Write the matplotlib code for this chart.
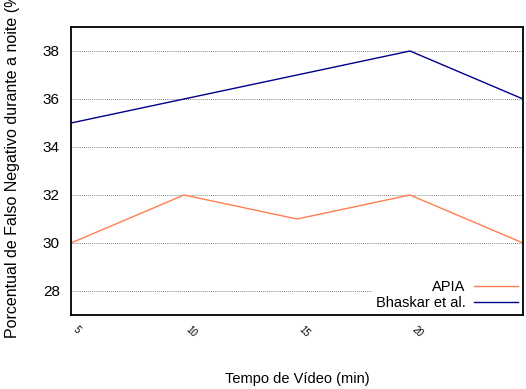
import matplotlib.pyplot as plt

plt.rcParams["font.family"] = ["Liberation Sans", "DejaVu Sans"]

tempo = [5, 10, 15, 20, 25]
apia = [30, 32, 31, 32, 30]
bhaskar = [35, 36, 37, 38, 36]
yticks = [28, 30, 32, 34, 36, 38]

fig = plt.figure(figsize=(5.26, 3.89), dpi=100)
ax = fig.add_axes([71 / 526, 74 / 389, 452 / 526, 288 / 389])

ax.plot(tempo, apia, color="#ff7f50", lw=1.0, label="APIA")
ax.plot(tempo, bhaskar, color="#00008b", lw=1.0, label="Bhaskar et al.")

ax.set_xlim(5, 25)
ax.set_ylim(27, 39)
ax.set_yticks(yticks)
ax.set_xticks(tempo)
ax.yaxis.grid(True, linestyle=(0, (1, 1.5)), color="#555555", lw=0.6)
ax.set_axisbelow(True)

ax.tick_params(axis="y", length=0, pad=8, labelsize=11)
ax.tick_params(axis="x", length=0, pad=7, labelsize=7)
for lab in ax.get_xticklabels():
    lab.set_rotation(-45)
    lab.set_ha("left")

for s in ax.spines.values():
    s.set_linewidth(1.3)

# axis titles placed by hand, like the gnuplot original
fig.text(0.5 * (71 + 523) / 526, 1 - 379 / 389, "Tempo de Vídeo (min)",
         fontsize=10.5, ha="center", va="center")
fig.text(13 / 526, 1 - 163 / 389, "Porcentual de Falso Negativo durante a noite (%)",
         fontsize=11.5, rotation=90, ha="center", va="center")

leg = ax.legend(loc="lower right", markerfirst=False, frameon=True, fontsize=10.5,
                handlelength=3, handletextpad=0.6, labelspacing=0.1,
                borderaxespad=0.1, borderpad=0.25, fancybox=False)
leg.get_frame().set_edgecolor("none")
leg.get_frame().set_facecolor("white")
leg.get_frame().set_alpha(1)

fig.savefig("out.png", dpi=100)
